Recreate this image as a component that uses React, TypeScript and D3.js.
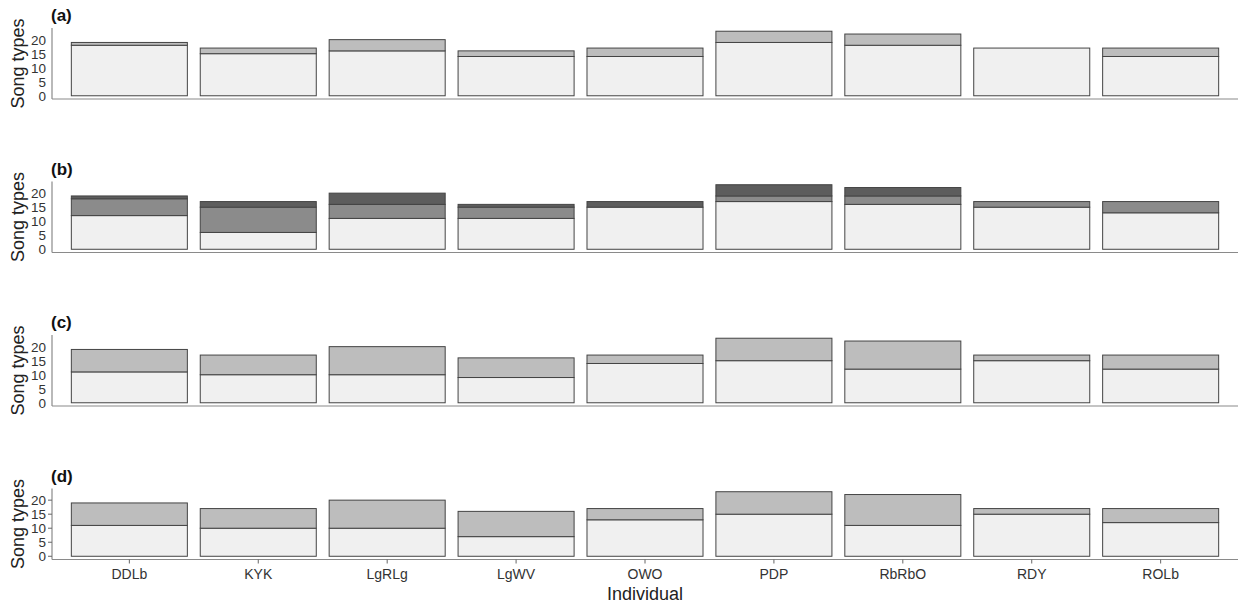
import React from 'react'
import * as d3 from 'd3'

const individuals = ['DDLb', 'KYK', 'LgRLg', 'LgWV', 'OWO', 'PDP', 'RbRbO', 'RDY', 'ROLb']
const yTicks = [0, 5, 10, 15, 20]

// panel (a)
const aShared = [18, 15, 16, 14, 14, 19, 18, 17, 14]
const aUnique = [1, 2, 4, 2, 3, 4, 4, 0, 3]
// panel (b)
const bLight = [12, 6, 11, 11, 15, 17, 16, 15, 13]
const bMid = [6, 9, 5, 4, 0, 2, 3, 2, 4]
const bDark = [1, 2, 4, 1, 2, 4, 3, 0, 0]
// panel (c)
const cShared = [11, 10, 10, 9, 14, 15, 12, 15, 12]
const cUnique = [8, 7, 10, 7, 3, 8, 10, 2, 5]
// panel (d)
const dShared = [11, 10, 10, 7, 13, 15, 11, 15, 12]
const dUnique = [8, 7, 10, 9, 4, 8, 11, 2, 5]

const panels = [
  { tag: '(a)', series: [aShared, aUnique], fills: ['#f0f0f0', '#bdbdbd'] },
  { tag: '(b)', series: [bLight, bMid, bDark], fills: ['#f0f0f0', '#8b8b8b', '#5d5d5d'] },
  { tag: '(c)', series: [cShared, cUnique], fills: ['#f0f0f0', '#bdbdbd'] },
  { tag: '(d)', series: [dShared, dUnique], fills: ['#f0f0f0', '#bdbdbd'] },
]

const W = 1242
const H = 608
const left = 52
const right = 1238
const panelH = 71
const panelTop0 = 28
const panelStep = 153.5
const font = 'Arial, "Liberation Sans", sans-serif'

export default function App() {
  const x = d3.scaleBand().domain(individuals).range([left, right]).paddingInner(0.1).paddingOuter(0.15)

  return (
    <svg width={W} height={H} style={{ position: 'absolute', left: 0, top: 0, background: '#fff' }} fontFamily={font}>
      {panels.map((p, pi) => {
        const top = panelTop0 + pi * panelStep
        const bottom = top + panelH
        const y = d3.scaleLinear().domain([-1.15, 24.15]).range([bottom, top])
        const rows = individuals.map((name, i) => {
          const r: any = { name }
          p.series.forEach((s, k) => (r['k' + k] = s[i]))
          return r
        })
        const stacked = d3.stack().keys(p.series.map((_, k) => 'k' + k))(rows)
        const isLast = pi === panels.length - 1
        return (
          <g key={p.tag}>
            <text x={left - 1} y={top - 7} fontSize={17} fontWeight="bold" fill="#111">{p.tag}</text>
            <text
              transform={`translate(24,${(top + bottom) / 2}) rotate(-90)`}
              textAnchor="middle"
              fontSize={18}
              fill="#222"
            >
              Song types
            </text>
            {stacked.map((layer, k) =>
              layer.map((d, i) =>
                d[1] - d[0] > 0 ? (
                  <rect
                    key={`${k}-${i}`}
                    x={x(individuals[i])}
                    width={x.bandwidth()}
                    y={y(d[1])}
                    height={y(d[0]) - y(d[1])}
                    fill={p.fills[k]}
                    stroke="#444"
                    strokeWidth={1}
                  />
                ) : null
              )
            )}
            <line x1={left} x2={left} y1={top} y2={bottom} stroke="#8a8a8a" strokeWidth={1.2} />
            <line x1={left} x2={right} y1={bottom} y2={bottom} stroke="#8a8a8a" strokeWidth={1.2} />
            {yTicks.map(t => (
              <g key={t}>
                {isLast && <line x1={left - 4} x2={left} y1={y(t)} y2={y(t)} stroke="#666" />}
                <text x={left - 6} y={y(t)} dy="0.36em" textAnchor="end" fontSize={13.5} fill="#333">
                  {t}
                </text>
              </g>
            ))}
            {isLast &&
              individuals.map(name => {
                const cx = (x(name) as number) + x.bandwidth() / 2
                return (
                  <g key={name}>
                    <line x1={cx} x2={cx} y1={bottom} y2={bottom + 4} stroke="#666" />
                    <text x={cx} y={bottom + 19} textAnchor="middle" fontSize={14} fill="#333">
                      {name}
                    </text>
                  </g>
                )
              })}
          </g>
        )
      })}
      <text x={(left + right) / 2} y={600} textAnchor="middle" fontSize={18} fill="#222">
        Individual
      </text>
    </svg>
  )
}
